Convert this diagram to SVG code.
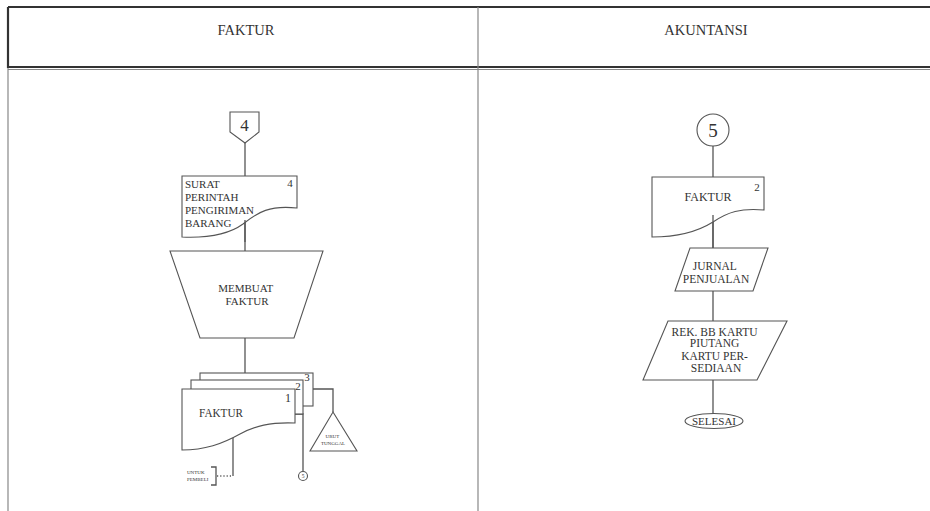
<svg xmlns="http://www.w3.org/2000/svg" width="930" height="511" viewBox="0 0 930 511">
  <style>
    .ln { fill: none; stroke: #555; stroke-width: 1.3; }
    .sh { fill: #fff; stroke: #555; stroke-width: 1.1; }
    .t { font-family: "Liberation Serif", "Times New Roman", serif; fill: #333; }
    .frame { stroke: #333; stroke-width: 2.2; fill: none; }
    .grid { stroke: #888; stroke-width: 1.2; fill: none; }
  </style>

  <rect width="930" height="511" fill="#fff"/>

  <!-- table frame -->
  <g id="table">
    <line class="frame" x1="8" y1="7" x2="930" y2="7"/>
    <line class="frame" x1="8" y1="7" x2="8" y2="68"/>
    <line class="grid" x1="8" y1="68" x2="8" y2="511"/>
    <line class="frame" x1="8" y1="67" x2="930" y2="67"/>
    <line class="grid" x1="8" y1="69.5" x2="930" y2="69.5"/>
    <line class="grid" x1="478" y1="7" x2="478" y2="511"/>
    <text class="t" x="246" y="35" font-size="14.5" text-anchor="middle">FAKTUR</text>
    <text class="t" x="706" y="35" font-size="14.5" text-anchor="middle">AKUNTANSI</text>
  </g>

  <!-- connectors -->
  <g id="connectors">
    <line class="ln" x1="245" y1="143" x2="245" y2="251"/>
    <line class="ln" x1="245" y1="338" x2="245" y2="373"/>
    <line class="ln" x1="233" y1="435" x2="233" y2="476"/>
    <line class="ln" x1="217" y1="476" x2="233" y2="476" stroke-dasharray="1.2 2"/>
    <polyline class="ln" points="295,414 303,414 303,471.5"/>
    <polyline class="ln" points="313,389 333,389 333,412"/>
    <line class="ln" x1="713" y1="146" x2="713" y2="248"/>
    <line class="ln" x1="713" y1="291" x2="713" y2="321"/>
    <line class="ln" x1="713" y1="380" x2="713" y2="414"/>
  </g>

  <!-- FAKTUR column -->
  <g id="offpage-4">
    <polygon class="sh" points="230,112 259,112 259,132 245,143 230,132"/>
    <text class="t" x="244.5" y="131" font-size="17" text-anchor="middle">4</text>
  </g>

  <g id="doc-spp">
    <path class="sh" d="M182,176 H297 V208 C270,205 258,212 243,224 C228,235 205,238 182,237 Z"/>
    <line class="ln" x1="245" y1="220" x2="245" y2="242"/>
    <text class="t" x="290" y="187" font-size="11" text-anchor="middle">4</text>
    <text class="t" font-size="11">
      <tspan x="185" y="188">SURAT</tspan>
      <tspan x="185" y="201">PERINTAH</tspan>
      <tspan x="185" y="214">PENGIRIMAN</tspan>
      <tspan x="185" y="227">BARANG</tspan>
    </text>
  </g>

  <g id="proc-membuat">
    <polygon class="sh" points="170,251 323,251 294,338 200,338"/>
    <text class="t" font-size="11" text-anchor="middle">
      <tspan x="247" y="292">MEMBUAT</tspan>
      <tspan x="247" y="305">FAKTUR</tspan>
    </text>
  </g>

  <g id="doc-faktur-set">
    <rect class="sh" x="200" y="373" width="113" height="33"/>
    <text class="t" x="307" y="381" font-size="11" text-anchor="middle">3</text>
    <rect class="sh" x="191" y="380" width="112" height="34"/>
    <text class="t" x="298" y="390" font-size="11" text-anchor="middle">2</text>
    <path class="sh" d="M182,389 H295 V423 C270,422 255,426 240,434 C222,444 205,450 182,450 Z"/>
    <text class="t" x="288" y="402" font-size="12" text-anchor="middle">1</text>
    <text class="t" x="199" y="417" font-size="13.5" textLength="44" lengthAdjust="spacingAndGlyphs">FAKTUR</text>
  </g>

  <g id="untuk-pembeli">
    <polyline class="ln" points="211,467 216,467 216,485 211,485" stroke-width="1"/>
    <text class="t" font-size="5" fill="#444">
      <tspan x="187" y="474">UNTUK</tspan>
      <tspan x="187" y="481">PEMBELI</tspan>
    </text>
  </g>

  <g id="connector-5-small">
    <circle class="sh" cx="303" cy="476" r="4.5"/>
    <text class="t" x="303" y="478" font-size="5.5" text-anchor="middle">5</text>
  </g>

  <g id="arsip-urut">
    <polygon class="sh" points="333,412 357,451 310,451"/>
    <text class="t" font-size="5" text-anchor="middle" fill="#444">
      <tspan x="333" y="438">URUT</tspan>
      <tspan x="333" y="445">TUNGGAL</tspan>
    </text>
  </g>

  <!-- AKUNTANSI column -->
  <g id="connector-5">
    <circle class="sh" cx="713" cy="130" r="16"/>
    <text class="t" x="713" y="137" font-size="19" text-anchor="middle">5</text>
  </g>

  <g id="doc-faktur-2">
    <path class="sh" d="M652,177 H764 V210 C740,208 728,212 713,222 C697,232 675,237 652,237 Z"/>
    <line class="ln" x1="713" y1="215" x2="713" y2="248"/>
    <text class="t" x="708" y="201" font-size="12" text-anchor="middle">FAKTUR</text>
    <text class="t" x="757" y="191" font-size="11" text-anchor="middle">2</text>
  </g>

  <g id="jurnal">
    <polygon class="sh" points="690,248 768,248 753,291 675,291"/>
    <text class="t" font-size="11.5" text-anchor="middle">
      <tspan x="716" y="270">JURNAL</tspan>
      <tspan x="716" y="283">PENJUALAN</tspan>
    </text>
  </g>

  <g id="rek-bb">
    <polygon class="sh" points="668,321 787,321 757,380 643,380"/>
    <text class="t" font-size="11.5" text-anchor="middle">
      <tspan x="716" y="336">REK. BB KARTU</tspan>
      <tspan x="716" y="347">PIUTANG</tspan>
      <tspan x="716" y="360">KARTU PER-</tspan>
      <tspan x="716" y="372">SEDIAAN</tspan>
    </text>
  </g>

  <g id="selesai">
    <ellipse class="sh" cx="714" cy="421" rx="29" ry="7.5"/>
    <text class="t" x="714" y="425" font-size="11" text-anchor="middle">SELESAI</text>
  </g>
</svg>
